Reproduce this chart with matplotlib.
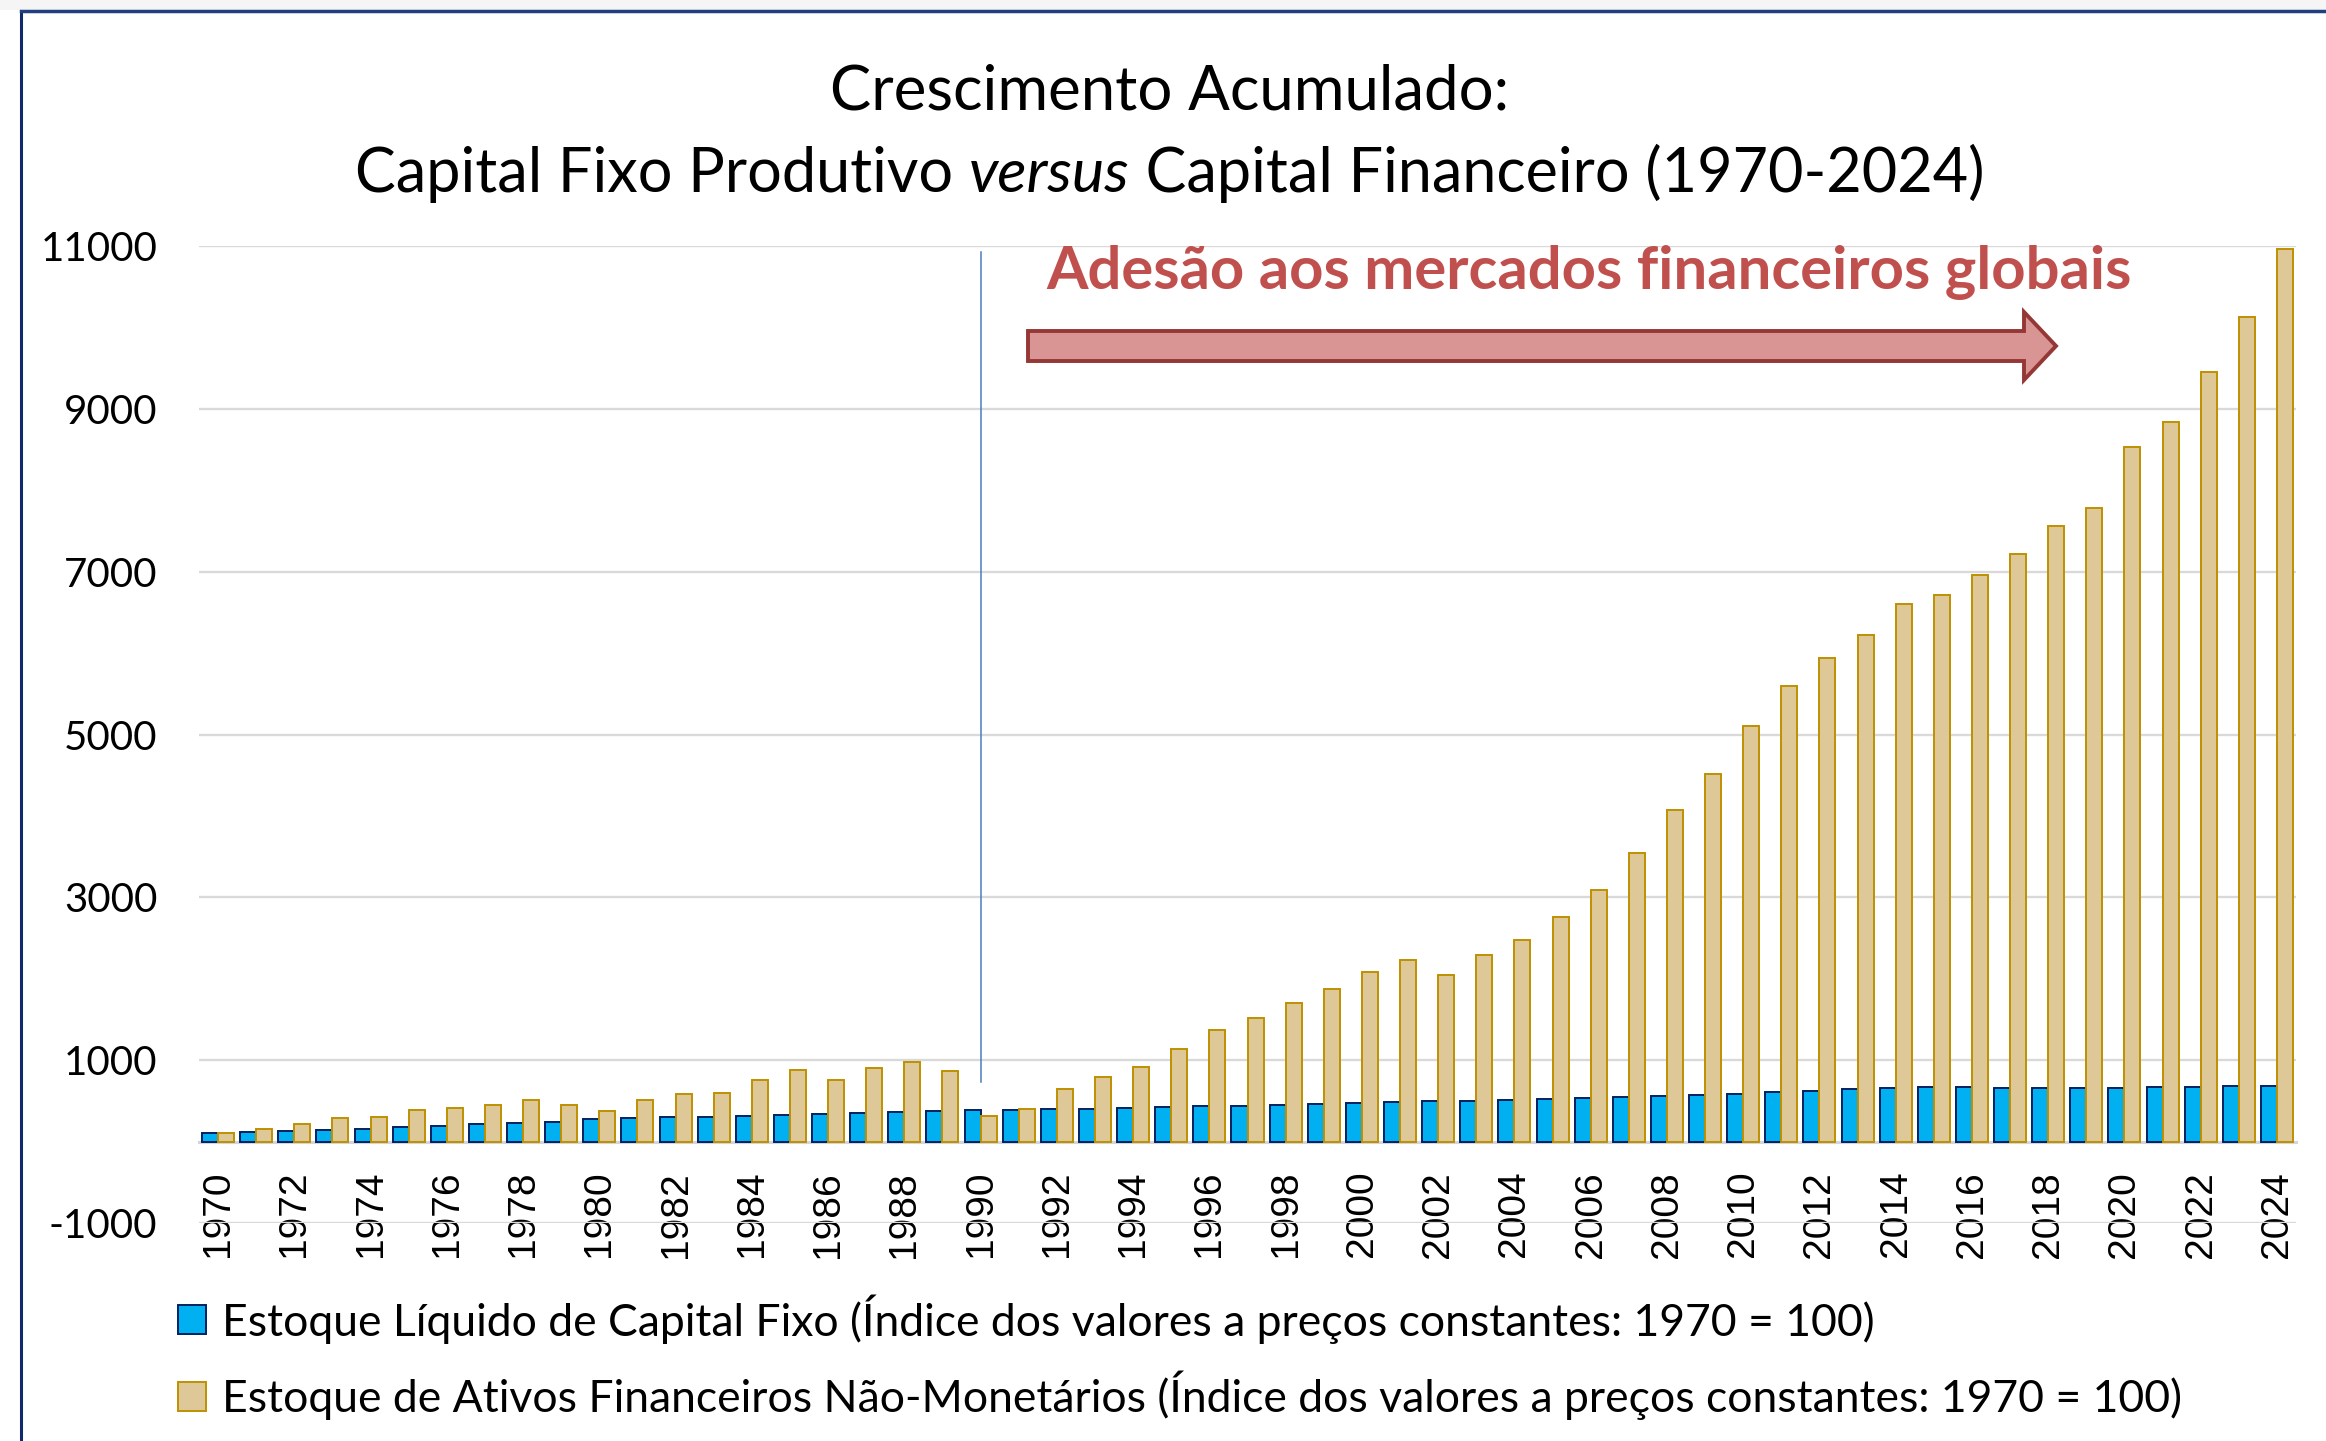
import matplotlib
matplotlib.use("Agg")
import matplotlib.pyplot as plt
from matplotlib.patches import Polygon, Rectangle
from matplotlib.lines import Line2D

# Data
years = list(range(1970, 2025))
capital_fixo = [100, 115, 125, 145, 160, 175, 195, 212, 228, 245,
                272, 287, 300, 307, 318, 323, 343, 355, 360, 378,
                385, 392, 398, 400, 410, 425, 433, 442, 452, 466,
                475, 485, 494, 504, 510, 522, 530, 543, 556, 570,
                590, 607, 624, 647, 663, 671, 671, 663, 663, 663,
                663, 671, 671, 678, 686]
ativos_financeiros = [100, 150, 217, 287, 300, 385, 418, 454, 516, 454,
                      381, 516, 585, 594, 753, 876, 761, 900, 974, 872,
                      319, 400, 645, 795, 918, 1139, 1365, 1520, 1704, 1868,
                      2089, 2235, 2052, 2292, 2471, 2758, 3087, 3544, 4071, 4515,
                      5110, 5591, 5945, 6227, 6603, 6713, 6956, 7223, 7567, 7779,
                      8531, 8837, 9448, 10130, 10961]
y_ticks = [-1000, 1000, 3000, 5000, 7000, 9000, 11000]
marco_ano = 1990
marco_range = (735, 10930)

label_fixo = "Estoque Líquido de Capital Fixo (Índice dos valores a preços constantes: 1970 = 100)"
label_fin = "Estoque de Ativos Financeiros Não-Monetários (Índice dos valores a preços constantes: 1970 = 100)"

W, H = 2326, 1441
plt.rcParams['font.family'] = ['Lato', 'DejaVu Sans']

fig = plt.figure(figsize=(W / 100, H / 100), dpi=100)


def fx(px):
    return px / W


def fy(py):
    return 1 - py / H


# frame of the original picture
fig.patches.append(Rectangle((0, fy(10)), 1, 10 / H, transform=fig.transFigure,
                             facecolor='#f5f5f5', edgecolor='none'))
fig.lines.append(Line2D([fx(21), fx(21)], [fy(11), 0], transform=fig.transFigure,
                        color='#0f2a6b', lw=2.2))
fig.lines.append(Line2D([fx(21), 1], [fy(11), fy(11)], transform=fig.transFigure,
                        color='#1f3f7f', lw=2.5))

ax = fig.add_axes([fx(199), fy(1223), fx(2296) - fx(199), fy(246) - fy(1223)])

idx = list(range(len(years)))
w = 0.42
b1 = ax.bar([i - 0.21 for i in idx], capital_fixo, width=w, color='#00b0f0',
            edgecolor='#002060', linewidth=1.4, label=label_fixo, zorder=3)
b2 = ax.bar([i + 0.21 for i in idx], ativos_financeiros, width=w, color='#dfc897',
            edgecolor='#bf9000', linewidth=1.4, label=label_fin, zorder=3)

ax.plot([years.index(marco_ano)] * 2, marco_range, color='#4a7ebb', lw=1.1, zorder=4)

# x axis crosses at zero (set before tick labels, it resets the ticks)
for s in ['top', 'right', 'left']:
    ax.spines[s].set_visible(False)
ax.spines['bottom'].set_position(('data', 0))
ax.spines['bottom'].set_color('#d4d4dc')
ax.spines['bottom'].set_linewidth(2.2)
ax.spines['bottom'].set_zorder(2)

ax.set_xlim(-0.5, len(years) - 0.5)
ax.set_ylim(-1000, 11000)
ax.set_yticks(y_ticks)
ax.set_yticklabels([str(v) for v in y_ticks])
ax.yaxis.grid(True, color='#d9d9d9', lw=1.7)
ax.set_axisbelow(True)

ax.set_xticks(idx[::2])
ax.set_xticklabels([str(y) for y in years[::2]], rotation=90,
                   fontfamily='Liberation Sans', fontsize=28)
ax.tick_params(axis='x', length=0, pad=21)
ax.tick_params(axis='y', length=0, pad=30, labelsize=29)

# title, second line has an italic word
fig.text(0.503, fy(110), "Crescimento Acumulado:", ha='center', va='baseline', fontsize=44.5)
renderer = fig.canvas.get_renderer()
parts = [("Capital Fixo Produtivo ", 'normal'), ("versus", 'italic'),
         (" Capital Financeiro (1970-2024)", 'normal')]
texts = [fig.text(0, fy(192), t, ha='left', va='baseline', fontsize=44, style=st)
         for t, st in parts]
widths = [t.get_window_extent(renderer).width for t in texts]
x0 = 0.503 * W - sum(widths) / 2
for t, wd in zip(texts, widths):
    t.set_x(fx(x0))
    x0 += wd

# annotation and block arrow
fig.text(fx(1046), fy(289), "Adesão aos mercados financeiros globais", ha='left',
         va='baseline', fontsize=43, fontweight='bold', color='#c0504d')
arrow_px = [(1028, 331), (2024, 331), (2024, 312), (2056, 346),
            (2024, 380), (2024, 361), (1028, 361)]
fig.patches.append(Polygon([(fx(x), fy(y)) for x, y in arrow_px], closed=True,
                           transform=fig.transFigure, facecolor='#d99594',
                           edgecolor='#953735', lw=2.8, joinstyle='miter'))

fig.legend(handles=[b1, b2], labels=[label_fixo, label_fin], loc='upper left',
           bbox_to_anchor=(fx(178), fy(1294)), frameon=False, fontsize=32,
           handlelength=0.63, handleheight=0.63, handletextpad=0.36,
           labelspacing=0.61, borderpad=0, borderaxespad=0)

fig.savefig("out.png", dpi=100)
